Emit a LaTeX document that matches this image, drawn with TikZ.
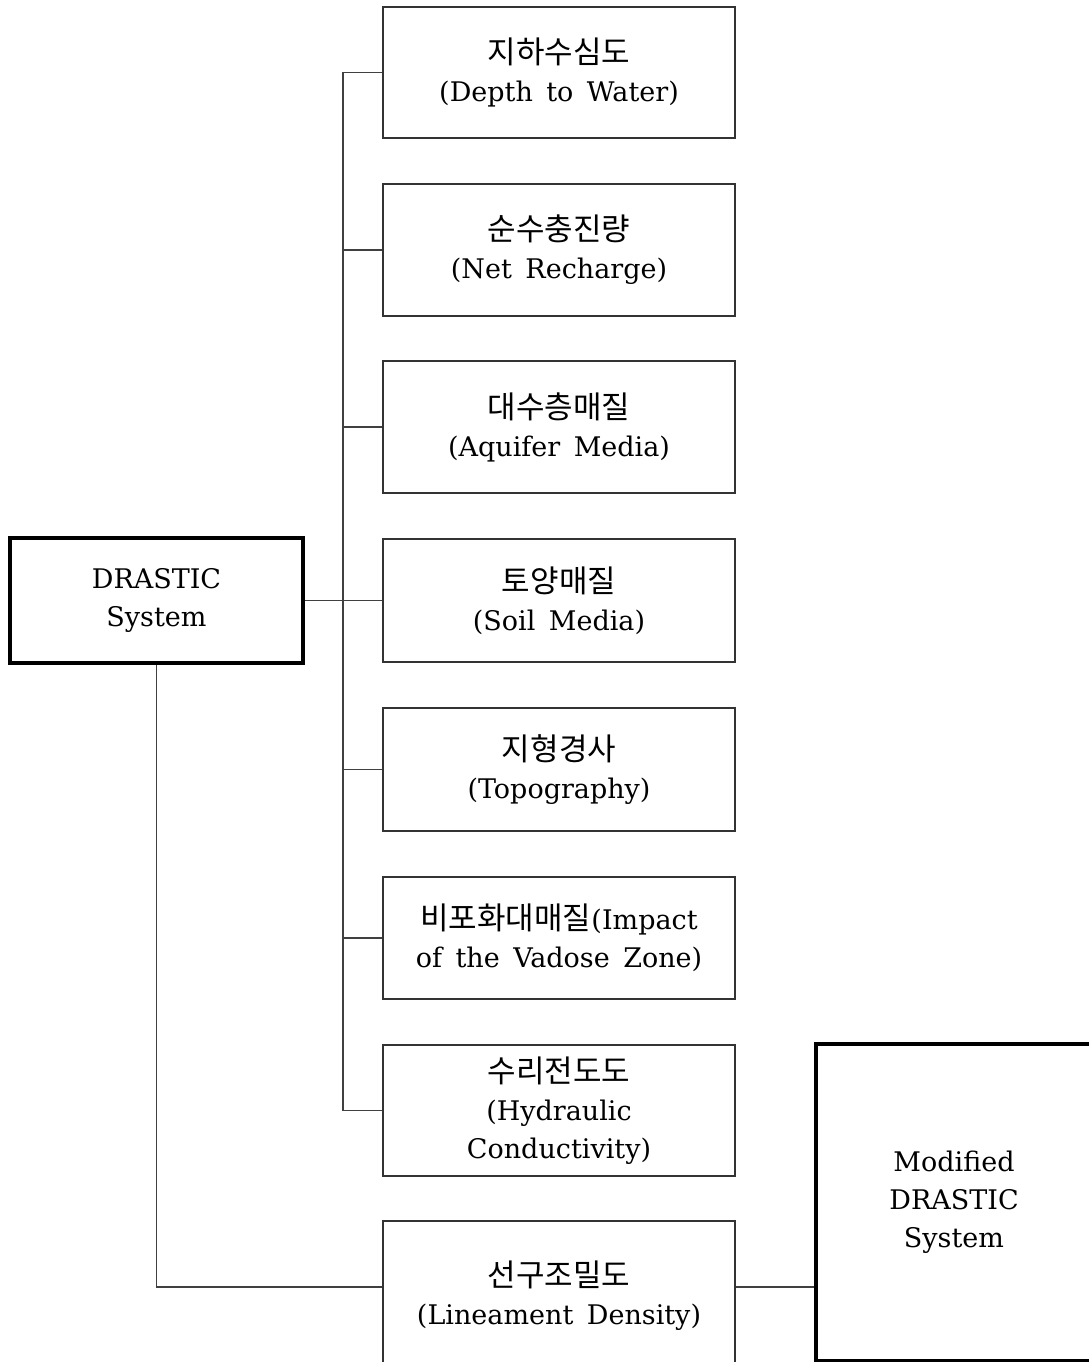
\documentclass[tikz,border=0pt]{standalone}
\usepackage{fontspec}
\setmainfont{DejaVu Serif}
\newfontfamily\krfont{Noto Sans CJK KR}
\newcommand{\kr}[1]{{\fontsize{31}{38}\selectfont\krfont #1}}
\newcommand{\widesp}{\spaceskip=0.5em\relax}
\begin{document}
\begin{tikzpicture}[x=1pt,y=-1pt,
  conn/.style={draw=black!75, line width=1.3pt},
  item/.style={draw=black!80, line width=1.4pt, minimum width=352pt, align=center, inner sep=0pt,
    font=\fontsize{27}{38}\selectfont},
  main/.style={draw=black, line width=3.5pt, align=center, inner sep=0pt,
    font=\fontsize{27}{38}\selectfont}]
\clip (0,0) rectangle (1089,1362);
\fill[white] (0,0) rectangle (1089,1362);
\coordinate (trunk) at (343,0);
\node[main, minimum width=293pt, minimum height=125pt] (drastic) at (156.5,600.5) {DRASTIC\\System};
\node[item, minimum height=131pt] (b1) at (559,72.5) {\kr{지하수심도}\\\widesp(Depth to Water)};
\node[item, minimum height=132pt] (b2) at (559,250) {\kr{순수충진량}\\\widesp(Net Recharge)};
\node[item, minimum height=132pt] (b3) at (559,427) {\kr{대수층매질}\\\widesp(Aquifer Media)};
\node[item, minimum height=123pt] (b4) at (559,600.5) {\kr{토양매질}\\\widesp(Soil Media)};
\node[item, minimum height=123pt] (b5) at (559,769.5) {\kr{지형경사}\\(Topography)};
\node[item, minimum height=122pt] (b6) at (559,938) {\kr{비포화대매질}(Impact\\\widesp of the Vadose Zone)};
\node[item, minimum height=131pt] (b7) at (559,1110.5) {\kr{수리전도도}\\(Hydraulic\\Conductivity)};
\node[item, minimum height=150pt] (b8) at (559,1296) {\kr{선구조밀도}\\\widesp(Lineament Density)};
\node[main, minimum width=276pt, minimum height=317pt] (mod) at (954,1202.5) {Modified\\DRASTIC\\System};
\draw[conn] (b1.west) -- (b1.west -| trunk) -- (b7.west -| trunk) -- (b7.west);
\foreach \b in {b2,b3,b5,b6} \draw[conn] (\b.west) -- (\b.west -| trunk);
\draw[conn] (drastic.east) -- (b4.west);
\draw[conn] (drastic.south) |- ([yshift=9pt]b8.west);
\draw[conn] ([yshift=9pt]b8.east) -- ([yshift=9pt]b8.east -| mod.west);
\end{tikzpicture}
\end{document}
